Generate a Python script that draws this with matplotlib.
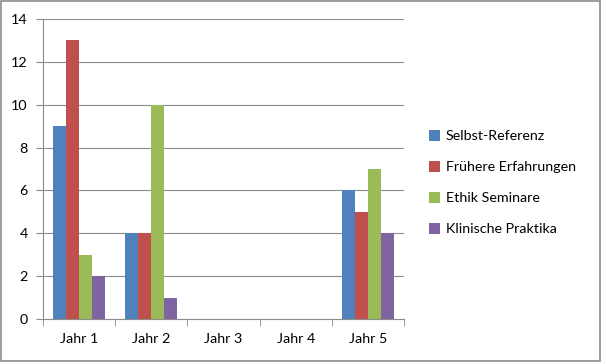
import matplotlib
matplotlib.use("Agg")
import matplotlib.pyplot as plt
import numpy as np
from matplotlib.patches import Rectangle

categories = ["Jahr 1", "Jahr 2", "Jahr 3", "Jahr 4", "Jahr 5"]
series_names = ["Selbst-Referenz", "Frühere Erfahrungen", "Ethik Seminare", "Klinische Praktika"]
selbst = [9, 4, 0, 0, 6]
frueher = [13, 4, 0, 0, 5]
ethik = [3, 10, 0, 0, 7]
klinisch = [2, 1, 0, 0, 4]
colors = ["#4F81BD", "#C0504D", "#9BBB59", "#8064A2"]

plt.rcParams['font.family'] = ['Lato', 'DejaVu Sans']

fig = plt.figure(figsize=(6.02, 3.62), dpi=100)
ax = fig.add_axes([43/602, 1-319/362, (404-43)/602, (319-19)/362])

x = np.arange(len(categories))
bw = 0.18
data = [selbst, frueher, ethik, klinisch]
for i, (vals, c, n) in enumerate(zip(data, colors, series_names)):
    ax.bar(x + (i - 1.5) * bw, vals, width=bw, color=c, label=n, zorder=3)

ax.set_xlim(-0.5, len(categories) - 0.5)
ax.set_ylim(0, 14)
ax.set_yticks(range(0, 15, 2))
ax.yaxis.grid(True, color="#8C8C8C", linewidth=0.8, zorder=0)
ax.set_xticks(x)
ax.set_xticklabels(categories)
ax.set_xticks(np.arange(-0.5, len(categories), 1), minor=True)
ax.tick_params(axis='x', which='major', length=0, pad=10, labelsize=10.3)
ax.tick_params(axis='x', which='minor', length=5, color="#8C8C8C")
ax.tick_params(axis='y', length=5, color="#8C8C8C", labelsize=10.3, pad=6)
for s in ["top", "right"]:
    ax.spines[s].set_visible(False)
for s in ["left", "bottom"]:
    ax.spines[s].set_color("#8C8C8C")
    ax.spines[s].set_linewidth(0.8)

leg = fig.legend(loc="upper left", bbox_to_anchor=(416/602, 1-117/362), frameon=False,
                 handlelength=0.8, handleheight=0.8, handletextpad=0.4,
                 labelspacing=1.3, fontsize=10.3)

fig.patches.append(Rectangle((0.002, 0.003), 0.995, 0.993, transform=fig.transFigure,
                             fill=False, edgecolor="#8C8C8C", linewidth=1.2))

fig.savefig("out.png", dpi=100)
